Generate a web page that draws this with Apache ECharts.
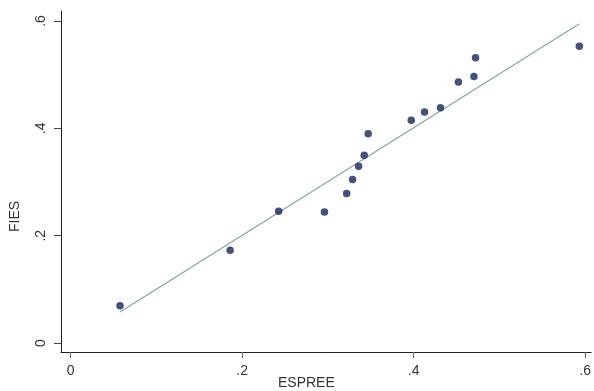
<!DOCTYPE html>
<html>
<head>
<meta charset="utf-8">
<script src="https://cdn.jsdelivr.net/npm/echarts@6/dist/echarts.min.js"></script>
<style>
  html, body { margin: 0; padding: 0; background: #fff; }
  #chart { width: 594px; height: 391px; }
</style>
</head>
<body>
<div id="chart"></div>
<script>
// scatter points
const espree = [0.0576, 0.186, 0.2426, 0.296, 0.3219, 0.3288, 0.3358, 0.3424, 0.347,
  0.3972, 0.4127, 0.4313, 0.4522, 0.4703, 0.4722, 0.5932]
const fies = [0.0694, 0.173, 0.2456, 0.2443, 0.2785, 0.3045, 0.3293, 0.3498, 0.390,
  0.4149, 0.4304, 0.4385, 0.4862, 0.4967, 0.5315, 0.5531]
// fitted line end points
const fitX = [0.0576, 0.5932]
const fitY = [0.058, 0.5948]
const tickValues = [0, 0.2, 0.4, 0.6]

const fmt = v => v === 0 ? '0' : String(Math.round(v * 10) / 10).replace(/^0/, '')

const chartInstance = echarts.init(document.getElementById('chart'))
const option = {
  animation: false,
  textStyle: { fontFamily: 'Liberation Sans, Arial, sans-serif' },
  grid: { left: 61, top: 11, right: 0, bottom: 39 },
  xAxis: {
    type: 'value',
    min: -0.0112,
    max: 0.607,
    splitLine: { show: false },
    axisLine: { onZero: false, lineStyle: { color: '#222', width: 1 } },
    axisTick: { customValues: tickValues, length: 6, lineStyle: { color: '#666' } },
    axisLabel: {
      customValues: tickValues, formatter: fmt, color: '#333', fontSize: 14, margin: 12
    }
  },
  yAxis: {
    type: 'value',
    min: -0.0167,
    max: 0.6186,
    splitLine: { show: false },
    axisLine: { show: true, onZero: false, lineStyle: { color: '#222', width: 1 } },
    axisTick: { show: true, customValues: tickValues, length: 7, lineStyle: { color: '#444' } },
    axisLabel: {
      customValues: tickValues, formatter: fmt, color: '#333', fontSize: 14,
      rotate: 90, margin: 13
    }
  },
  graphic: [
    {
      type: 'text', left: 278, top: 376,
      style: { text: 'ESPREE', fontSize: 14, fill: '#333', fontFamily: 'Liberation Sans, Arial, sans-serif' }
    },
    {
      type: 'text', x: 8, y: 232, rotation: Math.PI / 2,
      style: { text: 'FIES', fontSize: 14, fill: '#333', fontFamily: 'Liberation Sans, Arial, sans-serif' }
    }
  ],
  series: [
    {
      type: 'line',
      data: fitX.map((x, i) => [x, fitY[i]]),
      symbol: 'none',
      lineStyle: { color: '#84a896', width: 1.2 },
      z: 1
    },
    {
      type: 'scatter',
      data: espree.map((x, i) => [x, fies[i]]),
      symbol: 'circle',
      symbolSize: 7.5,
      itemStyle: { color: '#15265c' },
      z: 2
    }
  ]
}
chartInstance.setOption(option)
</script>
</body>
</html>
